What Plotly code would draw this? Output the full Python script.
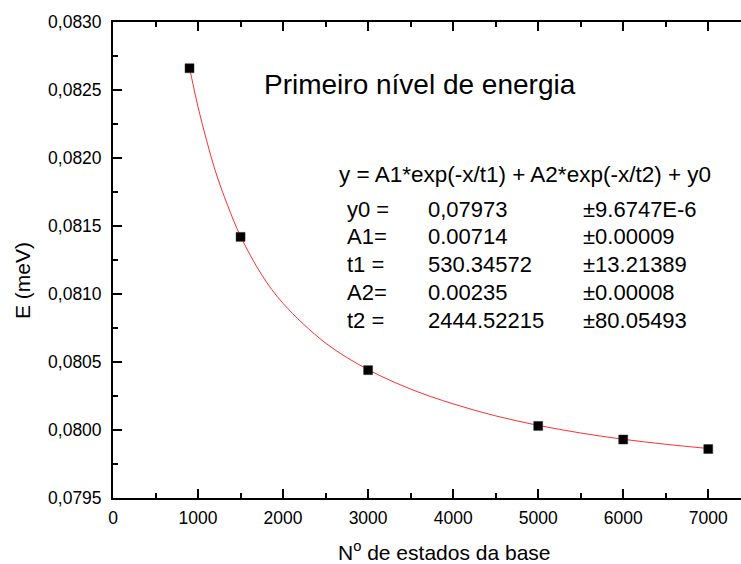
import plotly.graph_objects as go

# measured data points
n_states = [900, 1500, 3000, 5000, 6000, 7000]
energy = [0.08266, 0.08142, 0.08044, 0.08003, 0.07993, 0.07986]

# fitted curve
fit_x = [900, 1000, 1100, 1200, 1350, 1500, 1750, 2000, 2500, 3000, 3500, 4000, 4500, 5000, 5500, 6000, 6500, 7000]
fit_y = [0.082664, 0.082375, 0.082131, 0.081911, 0.081648, 0.081424, 0.081140, 0.080931, 0.080639,
         0.080444, 0.080301, 0.080192, 0.080104, 0.080034, 0.079978, 0.079932, 0.079895, 0.079864]

title_text = "Primeiro nível de energia"
formula_text = "y = A1*exp(-x/t1) + A2*exp(-x/t2) + y0"
param_names = ["y0 =", "A1=", "t1 =", "A2=", "t2 ="]
param_values = ["0,07973", "0.00714", "530.34572", "0.00235", "2444.52215"]
param_errors = ["±9.6747E-6", "±0.00009", "±13.21389", "±0.00008", "±80.05493"]

W, H = 741, 564
L, R, T, B = 113, 0, 22, 66
PW, PH = W - L - R, H - T - B


def px(x):
    return (x - L) / PW


def py(y):
    return (H - B - y) / PH


FONT = "Liberation Sans, Arial, sans-serif"

fig = go.Figure()
fig.add_trace(go.Scatter(x=fit_x, y=fit_y, mode="lines", line=dict(color="#ff3030", width=1, shape="spline"),
                         showlegend=False, hoverinfo="skip"))
fig.add_trace(go.Scatter(x=n_states, y=energy, mode="markers",
                         marker=dict(symbol="square", size=9, color="black", line=dict(color="#333333", width=0.5)),
                         showlegend=False))

annotations = [
    dict(text=title_text, x=px(262), y=py(85), xanchor="left", yanchor="middle", font=dict(size=28)),
    dict(text=formula_text, x=px(337), y=py(174), xanchor="left", yanchor="middle", font=dict(size=22.5)),
    dict(text="N<sup>o</sup> de estados da base", x=px(444), y=py(551), xanchor="center", yanchor="middle",
         font=dict(size=21)),
    dict(text="E (meV)", x=px(22), y=py(281), xanchor="center", yanchor="middle", textangle=-90,
         font=dict(size=21)),
]
row_y = [209, 237, 264, 292, 320]
for name, val, err, yy in zip(param_names, param_values, param_errors, row_y):
    annotations.append(dict(text=name, x=px(345), y=py(yy), xanchor="left", yanchor="middle", font=dict(size=22)))
    annotations.append(dict(text=val, x=px(426), y=py(yy), xanchor="left", yanchor="middle", font=dict(size=22)))
    annotations.append(dict(text=err, x=px(581), y=py(yy), xanchor="left", yanchor="middle", font=dict(size=22)))
for a in annotations:
    a.update(xref="paper", yref="paper", showarrow=False)
    a["font"].update(family=FONT, color="black")

fig.update_layout(
    width=W, height=H,
    margin=dict(l=L, r=R, t=T, b=B, pad=0),
    plot_bgcolor="white", paper_bgcolor="white",
    separators=",.",
    font=dict(family=FONT, color="black"),
    annotations=annotations,
    xaxis=dict(range=[0, 7385], tickmode="linear", tick0=0, dtick=1000, ticks="inside", ticklen=9, tickwidth=1.5,
               tickcolor="black", showline=True, linecolor="black", linewidth=1.8, mirror="allticks",
               showgrid=False, zeroline=False, tickfont=dict(size=17.5, family=FONT, color="black"),
               ticklabelstandoff=3,
               minor=dict(dtick=500, ticks="inside", ticklen=5, tickwidth=1.5, tickcolor="black", showgrid=False)),
    yaxis=dict(range=[0.0795, 0.0830], tickmode="linear", tick0=0.0795, dtick=0.0005, tickformat=".4f",
               ticks="inside", ticklen=9, tickwidth=1.5, tickcolor="black", showline=True, linecolor="black",
               linewidth=1.8, showgrid=False, zeroline=False,
               tickfont=dict(size=17.5, family=FONT, color="black"), ticklabelstandoff=6,
               minor=dict(dtick=0.00025, ticks="inside", ticklen=5, tickwidth=1.5, tickcolor="black",
                          showgrid=False)),
)

fig.write_html("out.html")
